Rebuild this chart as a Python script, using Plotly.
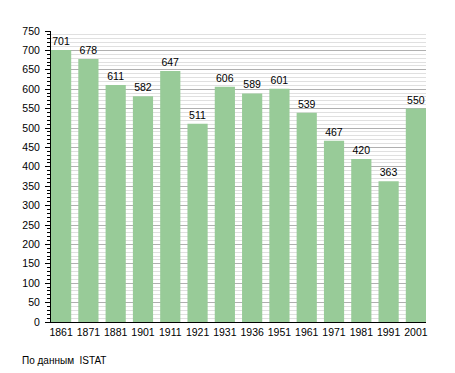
import plotly.graph_objects as go

years = ["1861", "1871", "1881", "1901", "1911", "1921", "1931", "1936", "1951", "1961", "1971", "1981", "1991", "2001"]
population = [701, 678, 611, 582, 647, 511, 606, 589, 601, 539, 467, 420, 363, 550]
y_ticks = list(range(0, 751, 50))
source_note = "По данным  ISTAT"

xpos = list(range(len(years)))
FONT = "Liberation Sans, Arial, sans-serif"

fig = go.Figure(go.Bar(
    x=xpos, y=population,
    marker=dict(color="#98cb98", line=dict(width=0)),
    text=[str(v) for v in population],
    textposition="outside",
    textfont=dict(family=FONT, size=10.5, color="#000"),
    cliponaxis=False,
))

fig.update_layout(
    width=447, height=365,
    margin=dict(l=43, r=29, t=23, b=50.5, pad=0),
    paper_bgcolor="white", plot_bgcolor="white",
    bargap=0.26,
    showlegend=False,
    font=dict(family=FONT, size=10.5, color="#000"),
    xaxis=dict(
        tickmode="array", tickvals=xpos, ticktext=years,
        range=[-0.37, 13.37],
        showgrid=False, zeroline=False,
        showline=True, linecolor="#000", linewidth=1,
        ticks="", tickfont=dict(size=10.5),
    ),
    yaxis=dict(
        range=[0, 750],
        tickmode="array", tickvals=y_ticks,
        showgrid=True, gridcolor="#b0b0b0", gridwidth=1,
        zeroline=False,
        showline=True, linecolor="#000", linewidth=1,
        ticks="outside", ticklen=5, tickcolor="#000",
        ticklabelstandoff=3,
        tickfont=dict(size=10.5),
        minor=dict(dtick=10, showgrid=True, gridcolor="#e0e0e0", gridwidth=1,
                   ticks="outside", ticklen=3, tickcolor="#000"),
    ),
    annotations=[dict(
        text=source_note, xref="paper", yref="paper",
        x=-31/375, y=-38.5/291.5, xanchor="left", yanchor="middle",
        showarrow=False, font=dict(size=10, color="#000"),
    )],
)

fig.write_html("out.html")
